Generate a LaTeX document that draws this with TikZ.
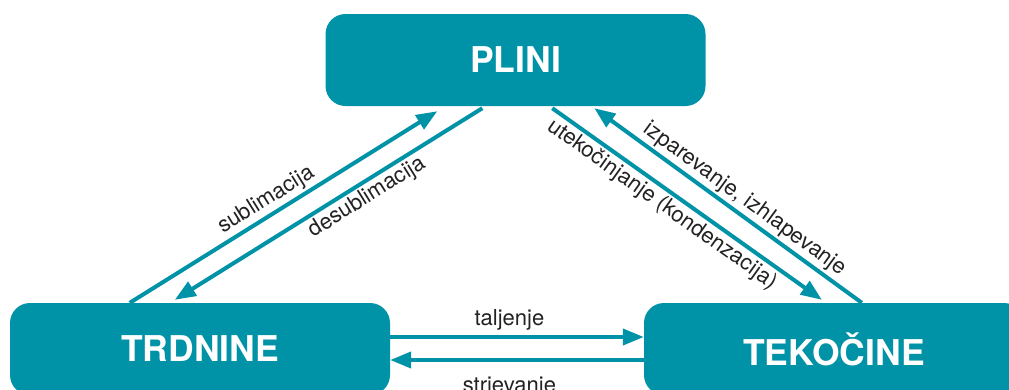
\documentclass[tikz,border=0pt]{standalone}
\usepackage{fontspec}
\setmainfont{TeX Gyre Heros}
\usetikzlibrary{arrows.meta,calc}
\definecolor{tealc}{RGB}{0,146,166}
\definecolor{labc}{RGB}{34,34,34}
\begin{document}
\begin{tikzpicture}[x=1pt,y=-1pt,
  statebox/.style={draw=none,fill=tealc,rounded corners=20pt,minimum width=380pt,minimum height=92pt,
    text=white,font=\fontsize{35.5}{40}\selectfont\bfseries,inner sep=0pt},
  conn/.style={draw=tealc,line width=4pt,-{Triangle[length=21pt,width=16pt]}},
  lab/.style={text=labc,font=\fontsize{22}{26}\selectfont,inner sep=2.5pt}]
\useasboundingbox (0,0) rectangle (1009,389);
\node[statebox] (plini) at (515.5,60) {PLINI};
\node[statebox] (trd) at (200,349) {TRDNINE};
\node[statebox] (tek) at (834,349) {TEKOČINE};
% gas <-> solid
\draw[conn] ([xshift=120pt]trd.north west) -- ([xshift=112pt,yshift=-5pt]plini.south west)
  node[lab,sloped,above,pos=0.47] {sublimacija};
\draw[conn] ([xshift=157pt,yshift=-2pt]plini.south west) -- ([xshift=165pt,yshift=3pt]trd.north west)
  node[lab,sloped,below,pos=0.40] {desublimacija};
% gas <-> liquid
\draw[conn] ([xshift=227pt,yshift=-2pt]plini.south west) -- ([xshift=178pt,yshift=3pt]tek.north west)
  node[lab,sloped,below,pos=0.44] {utekočinjanje (kondenzacija)};
\draw[conn] ([xshift=218pt]tek.north west) -- ([xshift=269pt,yshift=-2pt]plini.south west)
  node[lab,sloped,above,pos=0.47] {izparevanje, izhlapevanje};
% solid <-> liquid
\draw[conn] ([yshift=12pt]trd.east) -- ([yshift=12pt]tek.west)
  node[lab,above,pos=0.47,yshift=2pt] {taljenje};
\draw[conn] ([yshift=-11pt]tek.west) -- ([yshift=-11pt]trd.east)
  node[lab,below,pos=0.53,yshift=-12pt] {strjevanje};
\end{tikzpicture}
\end{document}
